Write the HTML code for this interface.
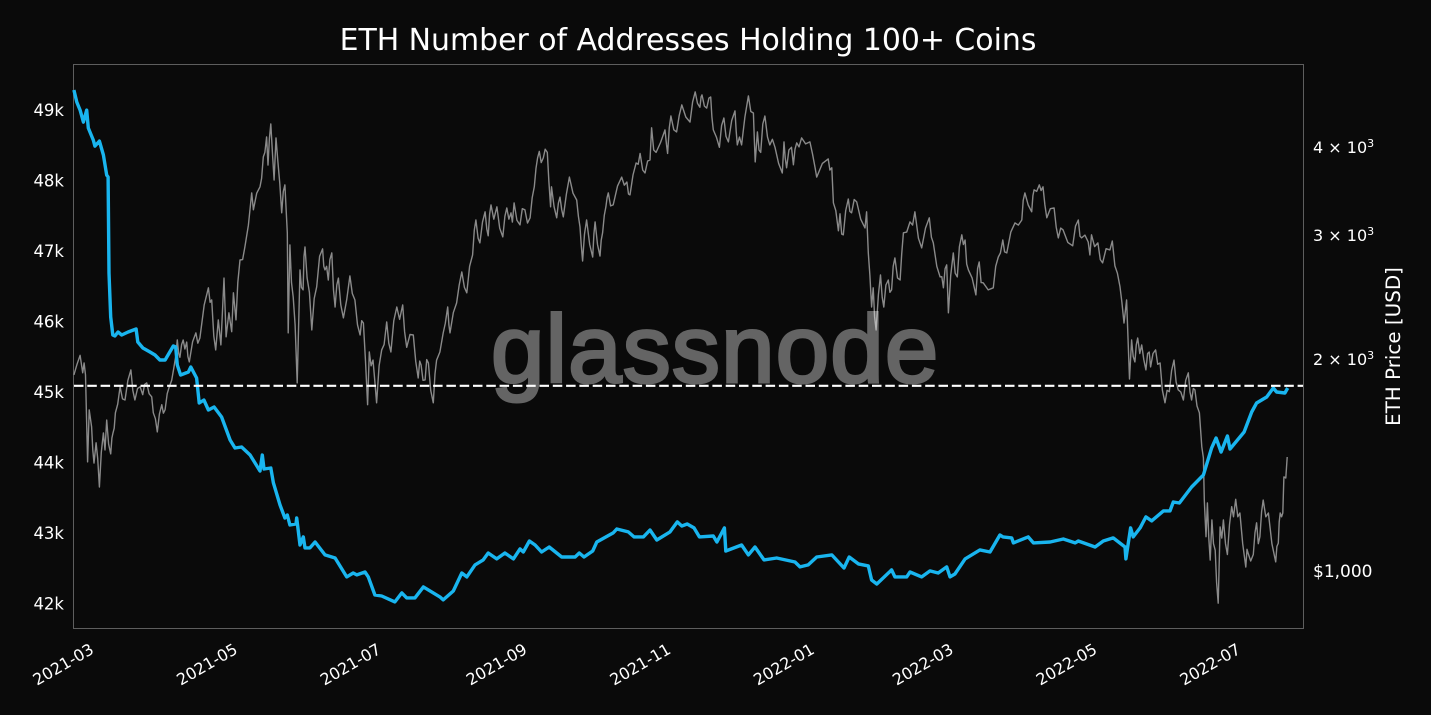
<!DOCTYPE html>
<html lang="en">
<head>
<meta charset="utf-8">
<title>ETH Number of Addresses Holding 100+ Coins</title>
<style>
html,body{margin:0;padding:0;background:#0a0a0a;width:1431px;height:715px;overflow:hidden}
svg{display:block;font-family:"DejaVu Sans","Liberation Sans",sans-serif}
text{fill:#fff}
</style>
</head>
<body>
<svg id="chart" xmlns="http://www.w3.org/2000/svg" width="1431" height="715" viewBox="0 0 1431 715">
  <rect x="0" y="0" width="1431" height="715" fill="#0a0a0a"/>
  <text x="688" y="50" font-size="29.9" text-anchor="middle">ETH Number of Addresses Holding 100+ Coins</text>
  <rect x="73.5" y="64.5" width="1230" height="564" fill="none" stroke="#5e5e5e" stroke-width="1"/>
  <g id="price-layer"></g>
  <g id="count-layer"></g>
  <text x="491" y="382" font-family="Liberation Sans, sans-serif" font-size="96" letter-spacing="1.2" fill="#fff" stroke="#fff" stroke-width="3" opacity="0.37">glassnode</text>
  <g id="reference-layer"></g>
  <g id="left-axis"></g>
  <g id="right-axis"></g>
  <g id="x-axis"></g>
  <text transform="translate(1400 346.5) rotate(-90)" font-size="19.9" text-anchor="middle">ETH Price [USD]</text>
</svg>
<script>
const xTickLabels = ['2021-03','2021-05','2021-07','2021-09','2021-11','2022-01','2022-03','2022-05','2022-07'];
const leftTickValues = [42000,43000,44000,45000,46000,47000,48000,49000];
const leftTickLabels = ['42k','43k','44k','45k','46k','47k','48k','49k'];
const rightTickValues = [1000,2000,3000,4000];
const rightTickLabels = ['$1,000','2 × 10','3 × 10','4 × 10'];
const rightTickExponents = ['','3','3','3'];
const referenceValue = 45088;

const countDays = [
0.4,1.6,3.0,4.4,5.8,6.5,8.6,9.3,11.2,12.9,
14.3,14.9,15.3,16.0,16.9,17.8,19.1,20.7,23.4,26.8,
27.5,29.7,32.7,34.8,36.9,39.1,42.6,43.6,44.3,45.7,
49.0,50.0,52.5,53.6,55.6,57.5,59.9,63.1,66.7,68.8,
71.6,75.2,79.4,80.4,81.1,84.0,85.1,87.9,90.0,91.0,
92.1,94.7,95.0,96.4,97.8,98.5,100.6,102.8,107.0,111.3,
116.2,119.0,120.5,124.0,125.4,128.2,131.1,136.7,139.6,141.7,
145.2,148.8,155.8,157.2,161.5,165.1,167.2,170.7,174.2,176.3,
179.9,183.4,187.0,189.8,191.2,193.8,196.2,199.0,202.2,207.5,
213.2,215.0,217.0,220.7,222.4,229.4,230.9,235.8,238.2,242.2,
245.0,247.9,253.5,256.6,258.5,260.8,263.7,266.0,271.9,273.4,
276.6,277.2,283.9,286.8,289.6,293.4,298.8,306.6,308.7,312.2,
315.8,322.2,327.4,329.6,333.5,337.7,339.1,341.3,347.6,349.0,
354.0,355.4,360.4,363.9,367.4,371.0,372.4,374.5,378.8,385.1,
389.4,393.6,394.9,398.6,399.3,405.6,407.8,414.9,420.5,425.5,
426.9,434.0,437.5,441.7,446.7,447.1,449.1,450.2,453.1,455.6,
458.0,463.0,465.8,467.2,469.8,475.0,480.0,483.5,485.4,487.5,
490.2,491.3,497.3,500.5,502.6,506.9,509.7,511.1,514.6,515.8
];
const countValues = [
49283,49112,48999,48829,48999,48744,48573,48488,48559,48361,
48077,48049,46687,46064,45808,45794,45851,45808,45851,45893,
45709,45624,45567,45525,45454,45454,45652,45638,45383,45241,
45284,45355,45199,44844,44887,44745,44787,44646,44319,44206,
44220,44107,43880,44107,43908,43922,43710,43398,43213,43256,
43114,43128,43213,42830,42944,42788,42788,42873,42689,42646,
42377,42433,42405,42447,42377,42121,42107,42022,42150,42079,
42079,42235,42093,42051,42178,42433,42377,42547,42618,42717,
42632,42717,42632,42774,42731,42887,42830,42731,42802,42660,
42660,42717,42660,42745,42873,43001,43057,43015,42944,42944,
43043,42901,43015,43157,43100,43128,43072,42944,42958,42873,
43072,42745,42830,42689,42802,42618,42646,42589,42519,42547,
42660,42689,42504,42660,42561,42533,42334,42277,42476,42377,
42377,42447,42377,42462,42433,42519,42377,42419,42632,42760,
42731,42972,42944,42930,42859,42944,42859,42873,42915,42859,
42887,42802,42887,42930,42802,42632,43072,42944,43072,43228,
43171,43313,43313,43440,43426,43653,43823,44206,44348,44149,
44376,44192,44433,44716,44844,44929,45057,45000,44986,45057
];

const priceDays = [
0.4,1.7,3.0,4.1,4.7,5.3,6.2,6.9,7.9,8.4,
8.9,9.8,10.5,11.2,12.0,12.9,13.6,14.3,15.1,16.0,
16.5,17.0,17.5,18.0,19.0,20.0,21.0,22.1,23.3,24.6,
25.4,26.3,27.4,28.5,29.6,30.4,31.3,32.3,33.4,34.1,
35.0,35.8,36.7,37.7,38.4,39.1,40.0,40.9,41.9,42.9,
43.6,44.3,44.9,45.4,46.1,46.8,47.5,48.3,48.8,49.4,
50.8,52.2,53.0,53.9,55.7,57.5,58.2,58.9,59.8,60.6,
61.7,62.8,64.1,65.0,66.2,67.4,68.1,69.2,70.0,70.9,
72.0,73.0,74.5,75.9,76.6,78.0,79.4,80.1,80.8,81.5,
82.2,82.8,83.4,84.0,84.7,85.4,86.2,87.0,87.8,88.6,
89.3,90.0,91.0,91.4,92.1,92.8,93.5,94.3,95.2,96.4,
97.0,97.7,98.1,98.5,99.4,100.4,101.4,102.4,103.5,104.7,
106.0,106.5,107.0,107.7,108.4,109.1,109.9,110.6,111.3,112.0,
112.7,113.7,114.8,116.2,117.6,118.6,119.7,120.8,121.9,122.6,
123.3,124.2,125.1,125.8,126.6,127.4,128.2,128.9,130.0,131.1,
132.1,133.2,134.1,135.0,136.2,137.5,138.7,140.0,140.8,141.7,
143.1,144.5,145.5,146.6,147.2,147.8,148.6,149.5,150.2,150.9,
151.9,153.0,153.7,154.4,155.8,157.2,158.1,159.1,159.6,160.1,
161.5,162.9,164.0,165.1,166.2,167.2,168.4,169.7,170.4,171.1,
172.0,172.8,173.9,175.0,175.7,176.3,176.9,177.5,178.7,180.0,
181.2,182.5,183.4,184.2,185.1,186.0,186.6,187.3,188.5,189.8,
190.8,191.9,193.0,194.1,195.0,195.9,196.6,197.3,198.0,198.8,
199.7,200.5,201.4,202.1,202.8,203.2,204.3,205.4,206.1,206.8,
207.5,208.2,209.5,210.8,212.3,213.9,214.6,215.3,215.8,216.4,
217.2,218.1,219.4,220.7,221.2,221.7,222.7,223.8,224.3,224.9,
225.6,226.3,226.8,227.3,228.3,229.4,231.2,233.0,234.1,235.2,
235.9,236.5,237.8,239.1,240.0,240.8,241.9,242.9,244.0,245.0,
245.7,246.6,247.6,249.5,251.4,252.0,252.5,253.2,253.9,255.1,
256.3,257.4,258.5,260.2,262.0,263.1,264.2,265.2,266.2,266.7,
267.1,268.1,269.1,270.0,270.8,271.3,271.9,273.2,274.5,275.4,
276.4,277.3,278.3,279.7,281.1,281.6,282.1,283.0,283.9,285.3,
286.8,287.8,288.9,289.3,289.7,290.6,291.3,292.0,292.9,293.8,
294.9,295.9,297.0,298.1,299.6,301.2,301.9,302.4,303.0,304.0,
305.1,305.9,306.6,307.3,308.3,309.4,311.1,312.9,314.0,315.1,
315.8,318.2,320.7,321.4,322.2,322.9,323.9,325.0,325.7,326.4,
327.1,328.1,329.2,329.9,330.6,331.7,332.8,334.5,336.3,337.0,
337.7,338.4,339.1,339.8,340.4,341.0,342.0,342.9,343.6,344.3,
345.2,346.2,346.9,347.6,348.3,349.0,350.1,351.2,351.9,352.6,
354.0,355.4,356.5,357.5,359.0,360.4,362.0,363.6,364.5,365.3,
366.8,368.2,368.9,369.6,370.3,371.0,371.7,372.7,373.8,374.6,
375.5,376.4,377.4,378.1,378.8,379.5,380.2,381.8,383.4,384.1,
384.8,385.6,386.5,388.6,390.8,391.8,392.9,393.8,394.8,395.6,
396.5,398.2,400.0,401.4,402.9,403.5,404.2,405.6,407.1,407.6,
408.1,409.2,410.3,411.1,411.9,412.7,413.5,415.0,416.6,417.5,
418.4,419.4,420.4,422.4,424.5,425.7,426.9,427.6,428.3,429.7,
431.1,431.8,432.5,433.8,435.2,436.2,437.2,438.7,440.3,441.3,
442.4,443.5,444.6,445.4,446.3,447.4,448.6,449.5,450.2,450.9,
451.5,452.1,453.0,453.8,454.7,455.6,456.3,457.0,457.6,458.6,
459.7,460.6,461.6,462.6,463.7,464.6,465.5,466.5,467.5,468.4,
469.3,470.4,471.5,472.5,473.6,474.3,475.0,475.7,476.4,477.3,
478.3,479.3,480.0,480.4,481.1,481.7,482.3,482.9,483.6,484.3,
485.0,485.6,486.3,487.1,487.8,488.5,489.4,490.2,491.1,492.0,
492.8,493.7,494.6,495.5,496.7,498.0,498.5,499.0,500.1,501.2,
501.9,502.6,503.3,504.0,504.7,505.4,506.5,507.6,509.1,510.7,
511.2,511.8,512.2,512.6,513.2,513.7,514.2,515.0,515.6
];
const priceValues = [
1893,1960,2018,1906,1968,1893,1424,1688,1597,1480,
1419,1516,1440,1312,1470,1566,1481,1633,1510,1462,
1540,1566,1590,1672,1720,1821,1750,1744,1860,1924,
1800,1744,1810,1821,1774,1835,1844,1780,1762,1672,
1640,1571,1665,1717,1670,1689,1780,1821,1860,1943,
2010,2122,2030,2005,2090,2122,2060,2107,2010,1975,
2110,2172,2100,2136,2380,2517,2400,2419,2150,2054,
2266,2088,2598,2144,2319,2180,2476,2266,2560,2756,
2760,2877,3090,3433,3248,3430,3502,3600,3862,3920,
4123,3760,4100,4302,3900,3581,4110,3800,3540,3216,
3450,3524,3013,2172,2896,2560,2443,2230,1844,2669,
2520,2500,2790,2877,2600,2480,2193,2430,2525,2790,
2858,2700,2669,2700,2582,2760,2821,2500,2364,2540,
2598,2380,2281,2420,2617,2470,2419,2230,2157,2260,
2243,1980,1717,2040,1950,1987,1850,1728,1950,2054,
2090,2251,2100,2040,2260,2364,2270,2380,2180,2072,
2160,2157,1980,1874,1980,1955,1860,1862,1990,1968,
1800,1728,1900,1987,2040,2172,2240,2364,2230,2172,
2320,2395,2540,2651,2520,2476,2700,2803,3040,3142,
2960,2915,3120,3227,3050,2983,3200,3301,3150,3280,
3060,2973,3180,3269,3150,3216,3120,3322,3140,3092,
3260,3248,3110,3164,3380,3502,3720,3850,3932,3790,
3849,3960,3919,3560,3280,3502,3280,3164,3320,3386,
3250,3174,3420,3615,3430,3354,3180,3072,2900,2747,
3000,3142,2900,2783,3000,3122,2900,2792,2940,3013,
3190,3280,3380,3433,3290,3301,3510,3615,3520,3557,
3420,3410,3640,3785,3770,3906,3700,3664,3810,3823,
4248,3950,3919,4050,4219,4020,3906,4250,4415,4220,
4191,4420,4578,4400,4328,4620,4777,4600,4542,4700,
4730,4560,4530,4680,4698,4400,4219,4120,3985,4280,
4386,4130,4056,4350,4489,4200,4017,4120,4017,4400,
4714,4480,4458,4100,3799,4191,3950,3919,4300,4415,
4120,4017,4090,3985,3780,3664,4056,3850,3727,3950,
3985,3763,3960,4043,3990,4110,4030,4056,3900,3727,
3615,3780,3836,3700,3727,3322,3240,3033,3206,3000,
2993,3240,3365,3230,3216,3360,3333,3150,3062,3227,
2821,2620,2364,2517,2290,2193,2460,2625,2440,2364,
2540,2582,2480,2500,2700,2775,2600,2582,2810,3013,
3020,3122,3090,3227,2960,2868,3060,3164,2970,2915,
2700,2608,2610,2517,2680,2713,2319,2620,2821,2640,
2608,2880,2993,2900,2943,2720,2669,2600,2459,2680,
2739,2560,2558,2500,2517,2700,2784,2820,2943,2830,
2821,3020,3112,3090,3142,3350,3433,3300,3227,3400,
3468,3450,3524,3460,3502,3300,3164,3260,3269,3070,
2963,3060,3043,2920,2887,3080,3142,2980,2963,2990,
2924,2803,2993,2880,2915,2760,2730,2860,2849,2933,
2704,2640,2525,2400,2243,2419,1868,2122,2010,1975,
2090,2136,2030,2088,1990,1924,2030,2040,1943,2030,
2054,1960,1968,1800,1728,1800,1792,1920,1987,1850,
1803,1790,1744,1860,1906,1790,1744,1810,1803,1710,
1672,1496,1443,1257,1115,1245,1110,1033,1178,1090,
1067,960,897,1151,1110,1178,1090,1052,1160,1230,
1190,1260,1190,1205,1090,1010,1070,1057,1030,1052,
1130,1167,1090,1115,1210,1257,1190,1205,1090,1027,
1080,1092,1170,1205,1190,1205,1356,1351,1447
];

const SVGNS = 'http://www.w3.org/2000/svg';
const axisStart = Date.UTC(2021, 2, 1);
function xScale(day){ return 73 + day * 2.355; }
function yLeft(value){ return 603.5 - (value - 42000) * 0.0705; }
function yRight(price){ return 570 - Math.log10(price / 1000) * 704; }
function monthToDay(label){
  const parts = label.split('-');
  return (Date.UTC(+parts[0], +parts[1] - 1, 1) - axisStart) / 86400000;
}
function linePath(days, values, yFn){
  const n = Math.min(days.length, values.length);
  let d = '';
  for (let i = 0; i < n; i++) {
    d += (i ? 'L' : 'M') + xScale(days[i]).toFixed(1) + ' ' + yFn(values[i]).toFixed(1);
  }
  return d;
}
function addSvg(parent, tag){
  const el = document.createElementNS(SVGNS, tag);
  parent.appendChild(el);
  return el;
}

const pricePath = addSvg(document.getElementById('price-layer'), 'path');


pricePath.setAttribute('d', linePath(priceDays, priceValues, yRight));
pricePath.setAttribute('fill', 'none');
pricePath.setAttribute('stroke', '#8a8a8a');
pricePath.setAttribute('stroke-width', '1.4');
pricePath.setAttribute('stroke-linejoin', 'round');

const countPath = addSvg(document.getElementById('count-layer'), 'path');


countPath.setAttribute('d', linePath(countDays, countValues, yLeft));
countPath.setAttribute('fill', 'none');
countPath.setAttribute('stroke', '#19b5ef');
countPath.setAttribute('stroke-width', '3.4');
countPath.setAttribute('stroke-linejoin', 'round');

const refLine = addSvg(document.getElementById('reference-layer'), 'line');


refLine.setAttribute('x1', '74');
refLine.setAttribute('x2', '1303');
refLine.setAttribute('y1', yLeft(referenceValue).toFixed(1));
refLine.setAttribute('y2', yLeft(referenceValue).toFixed(1));
refLine.setAttribute('stroke', '#fff');
refLine.setAttribute('stroke-width', '2.2');
refLine.setAttribute('stroke-dasharray', '9.5 3.8');

leftTickValues.forEach(function(v, i){
  const t = addSvg(document.getElementById('left-axis'), 'text');
  
  
  t.setAttribute('x', '64');
  t.setAttribute('y', (yLeft(v) + 6).toFixed(1));
  t.setAttribute('font-size', '16.5');
  t.setAttribute('text-anchor', 'end');
  t.textContent = leftTickLabels[i];
});

rightTickValues.forEach(function(v, i){
  const t = addSvg(document.getElementById('right-axis'), 'text');
  
  
  t.setAttribute('x', '1313');
  t.setAttribute('y', (yRight(v) + 7).toFixed(1));
  t.setAttribute('font-size', rightTickExponents[i] ? '16' : '17');
  t.textContent = rightTickLabels[i];
  if (rightTickExponents[i]) {
    const sup = addSvg(t, 'tspan');
    
    
    sup.setAttribute('dy', '-6');
    sup.setAttribute('font-size', '11');
    sup.textContent = rightTickExponents[i];
  }
});

xTickLabels.forEach(function(label){
  const t = addSvg(document.getElementById('x-axis'), 'text');
  
  
  const cx = xScale(monthToDay(label)) - 10;
  t.setAttribute('transform', 'translate(' + cx.toFixed(1) + ' 664) rotate(-30)');
  t.setAttribute('y', '6');
  t.setAttribute('font-size', '16');
  t.setAttribute('text-anchor', 'middle');
  t.textContent = label;
});
</script>
</body>
</html>
